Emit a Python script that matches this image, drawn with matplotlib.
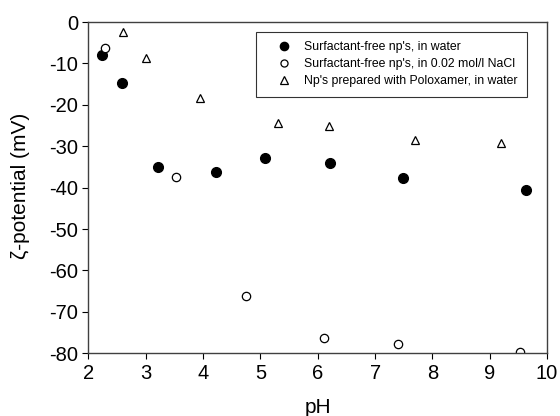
import matplotlib.pyplot as plt

plt.rcParams['font.family'] = ['Liberation Sans', 'DejaVu Sans']
plt.rcParams['axes.unicode_minus'] = False

# surfactant-free, in water
ph_water = [2.23, 2.59, 3.22, 4.22, 5.08, 6.22, 7.49, 9.64]
zeta_water = [-8.0, -14.8, -35.0, -36.2, -32.8, -34.0, -37.6, -40.6]

# surfactant-free, in 0.02 mol/l NaCl
ph_nacl = [2.29, 3.52, 4.74, 6.10, 7.40, 9.52]
zeta_nacl = [-6.2, -37.4, -66.2, -76.4, -77.9, -79.7]

# prepared with Poloxamer, in water
ph_polox = [2.60, 3.00, 3.94, 5.30, 6.20, 7.70, 9.20]
zeta_polox = [-2.4, -8.8, -18.4, -24.5, -25.1, -28.4, -29.2]

fig = plt.figure(figsize=(5.6, 4.16), dpi=100)
ax = fig.add_axes([0.158, 0.151, 0.819, 0.796])

ax.plot(ph_water, zeta_water, 'o', color='black', markersize=7,
        linestyle='none', label="Surfactant-free np's, in water")
ax.plot(ph_nacl, zeta_nacl, 'o', markerfacecolor='white', markeredgecolor='black',
        markersize=6, markeredgewidth=0.9, linestyle='none',
        label="Surfactant-free np's, in 0.02 mol/l NaCl")
ax.plot(ph_polox, zeta_polox, '^', markerfacecolor='white', markeredgecolor='black',
        markersize=6, markeredgewidth=0.9, linestyle='none',
        label="Np's prepared with Poloxamer, in water")

ax.set_xlim(2, 10)
ax.set_ylim(-80, 0)
ax.set_xticks(range(2, 11))
ax.set_yticks(range(-80, 1, 10))
ax.tick_params(direction='out', length=4, width=0.8, labelsize=14.5, colors='black')
for sp in ax.spines.values():
    sp.set_color('#404040')
    sp.set_linewidth(1)

ax.set_xlabel('pH', fontsize=15, labelpad=11)
ax.set_ylabel('ζ-potential (mV)', fontsize=15)
ax.yaxis.set_label_coords(-0.128, 0.505)

leg = ax.legend(loc='upper right', bbox_to_anchor=(0.9564, 0.9698), borderaxespad=0,
                fontsize=8.8, markerscale=0.85,
                frameon=True, fancybox=False, borderpad=0.75, handletextpad=0.05,
                labelspacing=0.42, handlelength=3.2)
leg.get_frame().set_edgecolor('black')
leg.get_frame().set_linewidth(0.8)

fig.savefig('out.png', dpi=100)
